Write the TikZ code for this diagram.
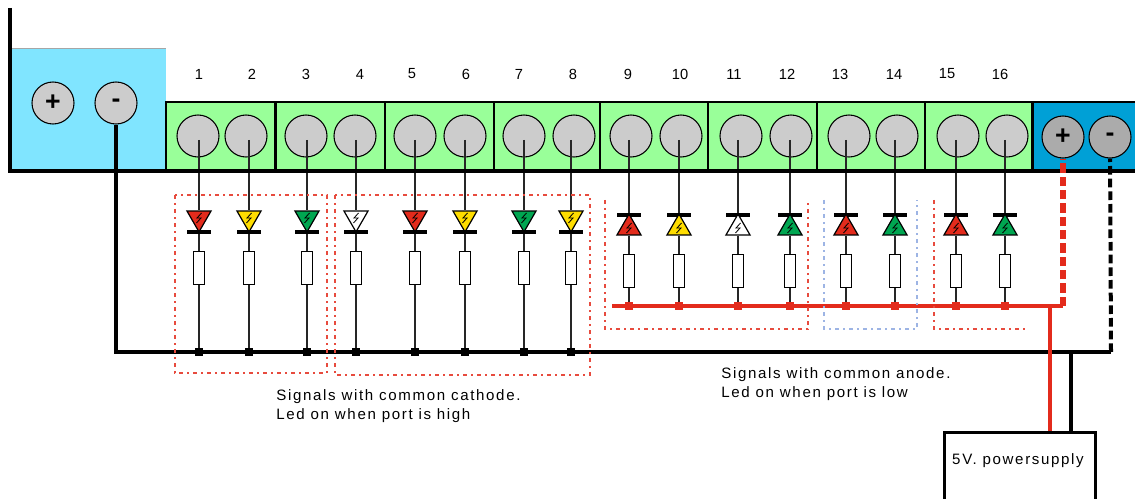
\documentclass[tikz,border=0pt]{standalone}
\usepackage{fontspec}
\setmainfont{Liberation Sans}
\newfontfamily\notefont[LetterSpace=11]{Liberation Sans}
\usetikzlibrary{shapes.geometric,positioning,calc}

\definecolor{tankblue}{HTML}{80E5FF}
\definecolor{portblue}{HTML}{00A0D6}
\definecolor{blockgreen}{HTML}{99FF99}
\definecolor{railred}{HTML}{E32B1C}
\definecolor{ledyellow}{HTML}{FFDD00}
\definecolor{ledgreen}{HTML}{00A651}
\definecolor{groupblue}{HTML}{9DB4E4}

\begin{document}
\begin{tikzpicture}[x=.75pt,y=-.75pt,semithick]

    \tikzstyle{block}=[draw=black,line width=.9pt,fill=blockgreen]
    \tikzstyle{term}=[draw=black,line width=.8pt,circle,fill=black!20,minimum size=31.5pt,inner sep=0pt,font=\fontsize{20}{20}\selectfont\bfseries]
    \tikzstyle{portterm}=[term,fill=black!33]
    \tikzstyle{wire}=[draw=black!85,line width=1.3pt]
    \tikzstyle{busline}=[draw=black,line width=3pt]
    \tikzstyle{redline}=[draw=railred,line width=3pt]
    \tikzstyle{ledmark}=[draw=black,line width=.9pt,regular polygon,regular polygon sides=3,inner sep=0pt,minimum size=20.8pt]
    \tikzstyle{ledbar}=[fill=black,inner sep=0pt,minimum width=18.5pt,minimum height=2.6pt]
    \tikzstyle{resistor}=[draw=black,line width=1.1pt,fill=white,inner sep=0pt,minimum width=8pt,minimum height=24.5pt]
    \tikzstyle{dot}=[fill=black,inner sep=0pt,minimum size=6pt]
    \tikzstyle{groupbox}=[draw=railred!85,line width=.9pt,dash pattern=on 3pt off 3pt on 1.5pt off 3pt]
    \tikzstyle{number}=[font=\fontsize{11}{11}\selectfont]
    \tikzstyle{note}=[font=\fontsize{11.3}{14}\selectfont\notefont,align=left,anchor=west,inner sep=0pt]

    \clip (0,0) rectangle (1135,499);

    % supply tank and port strip
    \fill[tankblue] (11,49) rectangle (166,170);
    \draw[draw=black!35,line width=1pt] (11,48.5) -- (166,48.5);
    \foreach \a/\b in {166/275,275/385,385/494,494/600,600/708,708/817,817/925,925/1032}
        \draw[block] (\a,102) rectangle (\b,171);
    \draw[draw=black,fill=portblue,line width=.9pt] (1033,102) rectangle (1140,171);
    \draw[line width=2.2pt] (276,102) -- (276,171) (1033,102) -- (1033,171);

    \node[term] (plusL) at (53,103) {+};
    \node[term] (minusL) at (116,103) {-};
    \node[portterm] (plusR) at (1063,137) {+};
    \node[portterm] (minusR) at (1110,137) {-};

    \coordinate (frameT) at (10,8);
    \coordinate (frameB) at (10,171);
    \coordinate (frameE) at (1135,171);
    \node[dot,minimum size=0pt] (railW) at (612,306) {};
    \coordinate (railE) at (1063,306);
    \coordinate (busW) at (116,352);
    \coordinate (busE) at (1111,352);

    % common cathode signals
    \foreach \n/\x/\cx/\lx/\col in {1/199/198/199/railred,2/249/246/252/ledyellow,3/307/306/306/ledgreen,4/356/355/360/white,5/415/415/412/railred,6/465/465/466/ledyellow,7/524/524/519/ledgreen,8/571/574/573/ledyellow}{
        \node[term] (port\n) at (\cx,136) {};
        \node[number] (num\n) at (\lx,74) {\n};
        \coordinate (top\n) at (\x,140);
        \node[ledmark,fill=\col,shape border rotate=180] (led\n) at (\x,218) {};
        \node[ledbar] (bar\n) at (\x,232) {};
        \node[resistor] (res\n) at (\x,268) {};
        \node[dot] (tap\n) at (\x,352) {};
        \draw[wire] (top\n) -- (led\n);
        \draw[wire] (bar\n) -- (res\n);
        \draw[wire] (res\n) -- (tap\n);
        \draw[line width=.6pt] ($(led\n)+(2.5,-5)$) -- ($(led\n)+(-2,0)$) -- ($(led\n)+(2,0)$) -- ($(led\n)+(-2.5,5)$);
    }

    % common anode signals
    \foreach \n/\x/\cx/\lx/\col in {9/629/631/628/railred,10/679/681/680/ledyellow,11/738/741/734/white,12/790/791/787/ledgreen,13/846/849/840/railred,14/895/897/894/ledgreen,15/956/958/947/railred,16/1005/1007/1000/ledgreen}{
        \node[term] (port\n) at (\cx,136) {};
        \node[number] (num\n) at (\lx,74) {\n};
        \coordinate (top\n) at (\x,140);
        \node[ledbar] (bar\n) at (\x,215) {};
        \node[ledmark,fill=\col] (led\n) at (\x,228) {};
        \node[resistor] (res\n) at (\x,271) {};
        \node[dot,fill=railred] (tap\n) at (\x,306) {};
        \draw[wire] (top\n) -- (bar\n);
        \draw[wire] (led\n) -- (res\n);
        \draw[wire] (res\n) -- (tap\n);
        \draw[line width=.6pt] ($(led\n)+(2.5,-5)$) -- ($(led\n)+(-2,0)$) -- ($(led\n)+(2,0)$) -- ($(led\n)+(-2.5,5)$);
    }

    % frame and rails
    \draw[line width=3.6pt] (frameT) -- (frameB) -- (frameE);
    \draw[busline,line width=3.2pt] (minusL) -- (busW) -- (busE);
    \draw[redline] (railW.center) -- (railE);
    \draw[redline,line width=3.8pt,dash pattern=on 7pt off 3pt] (railE) -- (plusR);
    \draw[busline,dash pattern=on 6.5pt off 3pt] (busE) -- (minusR);

    % signal groups
    \draw[groupbox] (175,195) rectangle (327,373);
    \draw[groupbox] (335,195) rectangle (590,375);
    \draw[groupbox] (605,200) -- (605,329) -- (808,329) -- (808,203);
    \draw[groupbox,draw=groupblue] (824,200) -- (824,329) -- (917,329) -- (917,200);
    \draw[groupbox] (934,200) -- (934,329) -- (1026,329);

    \node[note] (cathode) at (276,406) {Signals with common cathode.\\Led on when port is high};
    \node[note] (anode) at (721,384) {Signals with common anode.\\Led on when port is low};

    % power supply
    \node[draw=black,line width=2.2pt,minimum width=113pt,minimum height=75pt,anchor=north west,inner sep=0pt] (psu) at (943,431) {};
    \node[note,anchor=center] (psutext) at (1018,461) {5V. powersupply};
    \coordinate (feedR) at (1050,306);
    \coordinate (feedB) at (1071,352);
    \draw[redline,line width=2.8pt] (feedR) -- (feedR |- psu.north);
    \draw[draw=black,line width=2.6pt] (feedB) -- (feedB |- psu.north);
\end{tikzpicture}
\end{document}
